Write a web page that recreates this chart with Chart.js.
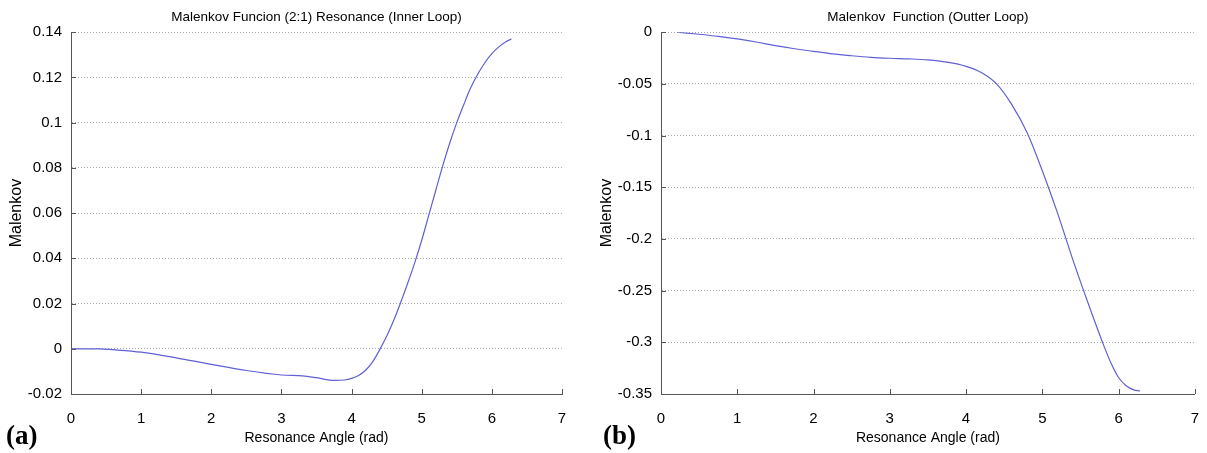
<!DOCTYPE html>
<html>
<head>
<meta charset="utf-8">
<script src="https://cdn.jsdelivr.net/npm/chart.js@4"></script>
<style>
  body { margin: 0; background: #fff; width: 1207px; height: 453px; overflow: hidden; position: relative; }
  canvas { position: absolute; top: 0; }
  #chartA { left: 0; }
  #chartB { left: 600px; }
  .tag { position: absolute; font: bold 27px "Liberation Serif", "Times New Roman", serif; color: #000; }
</style>
</head>
<body>
<canvas id="chartA" width="600" height="453"></canvas>
<canvas id="chartB" width="607" height="453"></canvas>
<div class="tag" style="left:6px; top:420px;">(a)</div>
<div class="tag" style="left:603px; top:420px;">(b)</div>
<script>
// resonance angle (rad) and Malenkov values
const innerAngle = [0, 0.4, 0.6, 1.0, 1.5, 2.0, 2.5, 3.0, 3.3, 3.5, 3.75, 3.9, 4.0, 4.1, 4.2, 4.3, 4.4, 4.5, 4.6, 4.7, 4.8, 4.9, 5.0, 5.1, 5.2, 5.3, 5.4, 5.5, 5.6, 5.7, 5.8, 5.9, 6.0, 6.1, 6.2, 6.28];
const innerMalenkov = [0, 0, -0.0004, -0.0015, -0.004, -0.0069, -0.0096, -0.0116, -0.012, -0.0128, -0.014, -0.0138, -0.0131, -0.0118, -0.0095, -0.0058, -0.0005, 0.0055, 0.0125, 0.0205, 0.029, 0.038, 0.048, 0.059, 0.07, 0.081, 0.091, 0.1, 0.108, 0.1155, 0.1215, 0.1265, 0.1305, 0.1335, 0.1358, 0.137];

const outerAngle = [0.21, 0.5, 0.75, 1.0, 1.25, 1.5, 1.75, 2.0, 2.25, 2.5, 2.75, 3.0, 3.25, 3.5, 3.75, 4.0, 4.2, 4.4, 4.6, 4.8, 5.0, 5.2, 5.4, 5.6, 5.8, 5.9, 6.0, 6.1, 6.2, 6.28];
const outerMalenkov = [0, -0.002, -0.004, -0.0065, -0.0095, -0.013, -0.016, -0.0185, -0.021, -0.0228, -0.0243, -0.0252, -0.0258, -0.0268, -0.029, -0.033, -0.039, -0.05, -0.07, -0.097, -0.134, -0.175, -0.22, -0.262, -0.302, -0.32, -0.334, -0.342, -0.346, -0.347];

const xTicks = [0, 1, 2, 3, 4, 5, 6, 7];
const innerYTicks = [-0.02, 0, 0.02, 0.04, 0.06, 0.08, 0.1, 0.12, 0.14];
const outerYTicks = [-0.35, -0.3, -0.25, -0.2, -0.15, -0.1, -0.05, 0];

const FONT = '"Liberation Sans", Arial, sans-serif';

// matlab style tick marks pointing into the plot
const innerTicks = {
  id: 'innerTicks',
  afterDraw(chart) {
    const {ctx, chartArea, scales} = chart;
    ctx.save();
    ctx.strokeStyle = '#555';
    ctx.lineWidth = 1;
    ctx.beginPath();
    scales.x.ticks.forEach(t => {
      const px = Math.round(scales.x.getPixelForValue(t.value)) + 0.5;
      ctx.moveTo(px, chartArea.bottom);
      ctx.lineTo(px, chartArea.bottom - 5);
    });
    scales.y.ticks.forEach(t => {
      const py = Math.round(scales.y.getPixelForValue(t.value)) + 0.5;
      ctx.moveTo(chartArea.left, py);
      ctx.lineTo(chartArea.left + 5, py);
    });
    ctx.stroke();
    ctx.restore();
  }
};

function makeChart(id, title, xs, ys, yTicks, pad, yWidth, yTitlePadTop) {
  const points = xs.map((x, i) => ({x: x, y: ys[i]}));
  new Chart(document.getElementById(id), {
    type: 'line',
    data: {
      datasets: [{
        data: points,
        borderColor: '#6060d4',
        borderWidth: 1.2,
        pointRadius: 0,
        cubicInterpolationMode: 'monotone',
        fill: false
      }]
    },
    options: {
      responsive: false,
      animation: false,
      layout: { padding: pad },
      plugins: {
        legend: { display: false },
        tooltip: { enabled: false },
        title: {
          display: true,
          text: title,
          fullSize: false,
          color: '#000',
          font: { family: FONT, size: 13.5, weight: 'normal' },
          padding: { top: 9, bottom: 7 }
        }
      },
      scales: {
        x: {
          type: 'linear',
          min: 0,
          max: 7,
          afterBuildTicks: s => { s.ticks = xTicks.map(v => ({value: v})); },
          afterFit: s => { s.height = 59; },
          grid: { display: false },
          border: { display: true, color: '#555', width: 1 },
          ticks: { color: '#000', padding: 8, font: { family: FONT, size: 15 } },
          title: {
            display: true,
            text: 'Resonance Angle (rad)',
            color: '#000',
            font: { family: FONT, size: 14 },
            padding: { top: 0, bottom: 6 }
          }
        },
        y: {
          type: 'linear',
          min: yTicks[0],
          max: yTicks[yTicks.length - 1],
          afterBuildTicks: s => { s.ticks = yTicks.map(v => ({value: v})); },
          afterFit: s => { s.width = yWidth; },
          grid: { display: true, drawTicks: false, color: '#a8a8a8', lineWidth: 1 },
          border: { display: true, color: '#555', width: 1, dash: [1, 2] },
          ticks: {
            color: '#000',
            padding: 9,
            font: { family: FONT, size: 15 },
            callback: v => String(+Number(v).toFixed(2))
          },
          title: {
            display: true,
            text: 'Malenkov',
            color: '#000',
            font: { family: FONT, size: 16 },
            padding: { top: yTitlePadTop, bottom: 0 }
          }
        }
      }
    },
    plugins: [innerTicks]
  });
}

makeChart('chartA', 'Malenkov Funcion (2:1) Resonance (Inner Loop)', innerAngle, innerMalenkov, innerYTicks,
  { left: 6, right: 38, top: 0, bottom: 0 }, 65, 1);
makeChart('chartB', 'Malenkov  Function (Outter Loop)', outerAngle, outerMalenkov, outerYTicks,
  { left: 0, right: 10, top: 0, bottom: 0 }, 61, -3);
</script>
</body>
</html>
